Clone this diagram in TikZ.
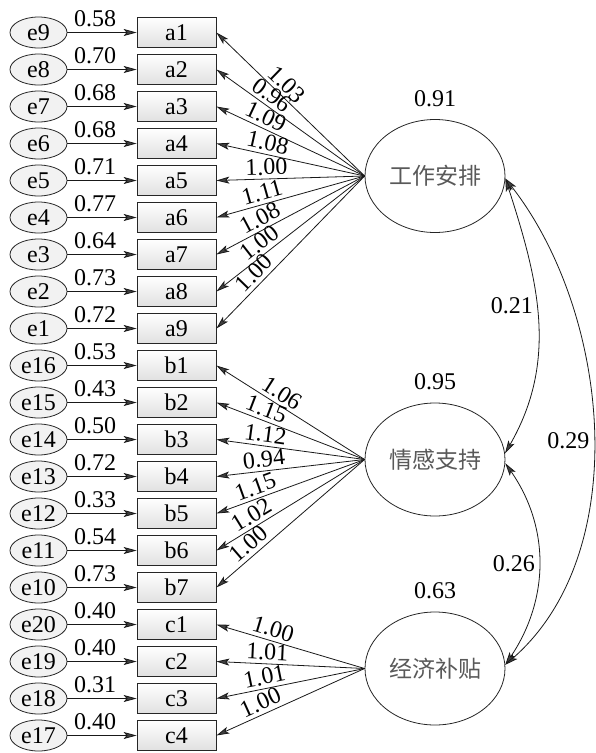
\documentclass[tikz,border=0pt]{standalone}
\usepackage{fontspec}
\setmainfont{Liberation Serif}
\newfontfamily\cjk{Noto Sans CJK SC}
\usetikzlibrary{arrows.meta,shapes.geometric,positioning}

\begin{document}
\begin{tikzpicture}[x=1pt,y=1pt,
    font=\fontsize{24}{27}\selectfont,
    obs/.style={draw=black!85,line width=0.8pt,top color=white,bottom color=black!12,
      minimum width=79pt,minimum height=30pt,inner sep=0pt},
    err/.style={ellipse,draw=black!85,line width=0.8pt,fill=black!5,
      minimum width=57pt,minimum height=31pt,inner sep=0pt},
    lat/.style={ellipse,draw=black!85,line width=0.8pt,minimum width=140pt,
      minimum height=113pt,inner sep=0pt,text=black!65,
      font=\cjk\fontsize{23}{26}\selectfont},
    arr/.style={-{Stealth[length=13pt,width=7pt,inset=3pt,fill=black!75]},
      line width=0.8pt,draw=black!90},
    load/.style={{Stealth[length=13pt,width=7pt,inset=3pt,fill=black!75]}-,
      line width=0.8pt,draw=black!90},
    cov/.style={{Stealth[length=13pt,width=7pt,inset=3pt,fill=black!75]}-{Stealth[length=13pt,width=7pt,inset=3pt,fill=black!75]},
      line width=0.8pt,draw=black!90}]
  \useasboundingbox (0,0) rectangle (595,-753);
  \foreach \r/\o/\e/\v in {0/a1/e9/0.58, 1/a2/e8/0.70, 2/a3/e7/0.68, 3/a4/e6/0.68,
      4/a5/e5/0.71, 5/a6/e4/0.77, 6/a7/e3/0.64, 7/a8/e2/0.73, 8/a9/e1/0.72,
      9/b1/e16/0.53, 10/b2/e15/0.43, 11/b3/e14/0.50, 12/b4/e13/0.72, 13/b5/e12/0.33,
      14/b6/e11/0.54, 15/b7/e10/0.73, 16/c1/e20/0.40, 17/c2/e19/0.40, 18/c3/e18/0.31,
      19/c4/e17/0.40}
    {\node[obs] (\o) at (176.5,-32.5-37*\r) {\o};
     \node[err] (\e) at (38.5,-32.5-37*\r) {\e};
     \draw[arr] (\e) -- (\o) node[pos=0.4,above=5pt,inner sep=0pt] {\v};}

  \node[lat] (work) at (435,-176) {工作安排};
  \node[lat] (emo) at (435,-459.5) {情感支持};
  \node[lat] (econ) at (435,-668.5) {经济补贴};
  \node[above=9pt of work] (vwork) {0.91};
  \node[above=9pt of emo] (vemo) {0.95};
  \node[above=9pt of econ] (vecon) {0.63};

  \foreach \o/\w/\p in {a1/1.03/0.42, a2/0.96/0.33, a3/1.09/0.30, a4/1.08/0.33,
      a5/1.00/0.34, a6/1.11/0.33, a7/1.08/0.33, a8/1.00/0.34, a9/1.00/0.31}
    \draw[load] (\o.east) -- (work.west) node[pos=\p,sloped,above] {\w};
  \foreach \o/\w/\p in {b1/1.06/0.40, b2/1.15/0.31, b3/1.12/0.32, b4/0.94/0.33,
      b5/1.15/0.29, b6/1.02/0.28, b7/1.00/0.27}
    \draw[load] (\o.east) -- (emo.west) node[pos=\p,sloped,above] {\w};
  \foreach \o/\w/\p in {c1/1.00/0.36, c2/1.01/0.34, c3/1.01/0.34, c4/1.00/0.33}
    \draw[load] (\o.east) -- (econ.west) node[pos=\p,sloped,above] {\w};

  \draw[cov] (work.-2) to[out=-72,in=60] node[pos=0.45,left] {0.21} (emo.5);
  \draw[cov] (work.-2) to[out=-52,in=41,looseness=0.9] node[pos=0.52,left] {0.29} (econ.3);
  \draw[cov] (emo.-3) to[out=-55,in=56] node[pos=0.5,left] {0.26} (econ.3);
\end{tikzpicture}
\end{document}
